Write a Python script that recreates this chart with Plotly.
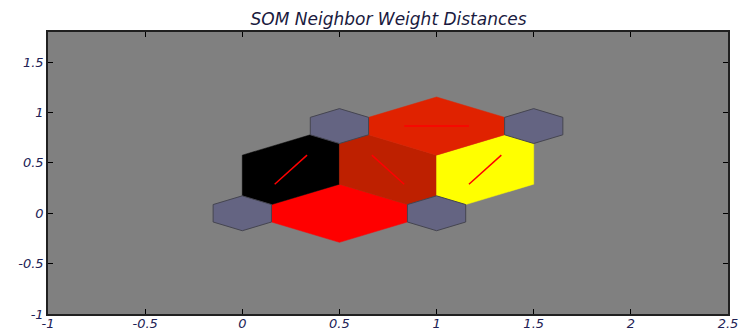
import numpy as np
import plotly.graph_objects as go

# ---- data ----
neuron_x = [0.0, 1.0, 0.5, 1.5]
neuron_y = [0.0, 0.0, 0.866, 0.866]
pair_i = [0, 0, 1, 1, 2]
pair_j = [1, 2, 2, 3, 3]
patch_colors = ["#ff0000", "#000000", "#be2000", "#ffff00", "#e02200"]
x_ticks = [-1, -0.5, 0, 0.5, 1, 1.5, 2, 2.5]
x_tick_labels = ["-1", "-0.5", "0", "0.5", "1", "1.5", "2", "2.5"]
y_ticks = [-1, -0.5, 0, 0.5, 1, 1.5]
y_tick_labels = ["-1", "-0.5", "0", "0.5", "1", "1.5"]
title_text = "SOM Neighbor Weight Distances"

# ---- geometry (MATLAB plotsomnd style) ----
shape_x = np.array([-1, 0, 1, 1, 0, -1]) * 0.5 * 0.3
shape_y = np.array([1, 2, 1, -1, -2, -1]) * np.sqrt(0.75) / 3 * 0.3
edge_w = np.sqrt(0.75) / 3

fig = go.Figure()

# neighbor patches
for k, (i, j) in enumerate(zip(pair_i, pair_j)):
    pi = np.array([neuron_x[i], neuron_y[i]])
    pj = np.array([neuron_x[j], neuron_y[j]])
    mid = (pi + pj) / 2
    d = pj - pi
    d = d / np.linalg.norm(d)
    n = np.array([-d[1], d[0]])
    a = mid + edge_w * n
    b = mid - edge_w * n
    xs = [pi[0], a[0], pj[0], b[0], pi[0]]
    ys = [pi[1], a[1], pj[1], b[1], pi[1]]
    fig.add_trace(go.Scatter(x=xs, y=ys, mode="lines", fill="toself",
                             fillcolor=patch_colors[k],
                             line=dict(color=patch_colors[k], width=0.5),
                             hoverinfo="skip", showlegend=False))

# neighbor lines
for i, j in zip(pair_i, pair_j):
    pi = np.array([neuron_x[i], neuron_y[i]])
    pj = np.array([neuron_x[j], neuron_y[j]])
    p1 = (2 * pi + pj) / 3
    p2 = (pi + 2 * pj) / 3
    fig.add_trace(go.Scatter(x=[p1[0], p2[0]], y=[p1[1], p2[1]], mode="lines",
                             line=dict(color="#ff0000", width=1.5),
                             hoverinfo="skip", showlegend=False))

# neurons
for x0, y0 in zip(neuron_x, neuron_y):
    xs = list(x0 + shape_x) + [x0 + shape_x[0]]
    ys = list(y0 + shape_y) + [y0 + shape_y[0]]
    fig.add_trace(go.Scatter(x=xs, y=ys, mode="lines", fill="toself",
                             fillcolor="#646482",
                             line=dict(color="#454550", width=1),
                             hoverinfo="skip", showlegend=False))

tick_font = dict(family="DejaVu Sans", size=13, color="#222255", style="italic")

fig.update_layout(
    width=743, height=331,
    margin=dict(l=48, r=15, t=32, b=17, autoexpand=False),
    paper_bgcolor="white",
    plot_bgcolor="#808080",
    showlegend=False,
    title=dict(text=title_text, x=0.523, xanchor="center",
               y=1 - 19 / 331, yanchor="middle", yref="container",
               font=dict(family="DejaVu Sans", size=17, color="#1a1a40", style="italic")),
    xaxis=dict(range=[-1, 2.5], tickvals=x_ticks, ticktext=x_tick_labels,
               ticks="inside", ticklen=5, tickwidth=1.2, tickcolor="black",
               showline=True, linecolor="#202020", linewidth=1.5, mirror="ticks",
               showgrid=False, zeroline=False, tickfont=tick_font, automargin=False,
               ticklabelstandoff=-3),
    yaxis=dict(range=[-1, 1.8], tickvals=y_ticks, ticktext=y_tick_labels,
               ticks="inside", ticklen=5, tickwidth=1.2, tickcolor="black",
               showline=True, linecolor="#202020", linewidth=1.5, mirror="ticks",
               showgrid=False, zeroline=False, tickfont=tick_font, automargin=False),
)

fig.write_html("out.html", config={"displayModeBar": False},
               post_script="document.body.style.margin='0';document.body.style.overflow='hidden';")
